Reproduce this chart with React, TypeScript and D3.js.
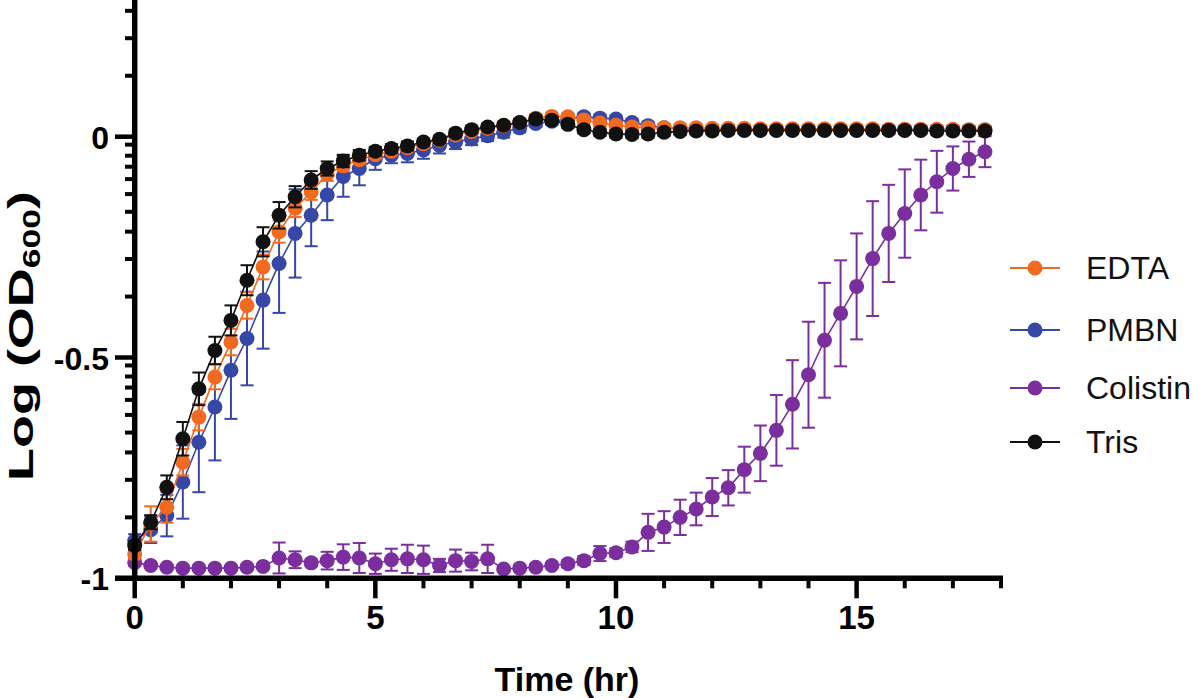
import * as d3 from "d3";

// sampling times, minutes
const minutes = [
  0, 20, 40, 60, 80, 100, 120, 140, 160, 180, 200, 220, 240, 260, 280, 300, 320, 340,
  360, 380, 400, 420, 440, 460, 480, 500, 520, 540, 560, 580, 600, 620, 640, 660, 680, 700,
  720, 740, 760, 780, 800, 820, 840, 860, 880, 900, 920, 940, 960, 980, 1000, 1020, 1040, 1060,
];

const edta = [
  -0.945, -0.877, -0.839, -0.737, -0.635, -0.544, -0.465, -0.382, -0.295, -0.215, -0.162, -0.125,
  -0.085, -0.066, -0.052, -0.041, -0.033, -0.025, -0.016, -0.008, 0.004, 0.012, 0.019, 0.025,
  0.032, 0.042, 0.046, 0.045, 0.038, 0.031, 0.026, 0.022, 0.02, 0.02, 0.02, 0.02, 0.019, 0.019,
  0.019, 0.018, 0.018, 0.018, 0.018, 0.018, 0.018, 0.018, 0.018, 0.017, 0.017, 0.017, 0.017,
  0.017, 0.016, 0.016,
];
const edtaSd = [
  0.012, 0.04, 0.035, 0.03, 0.03, 0.028, 0.03, 0.03, 0.028, 0.025, 0.02, 0.018, 0.015, 0.012,
  0.01, 0.008, 0.008, 0.008, 0.008, 0.008, 0.008, 0.008, 0.008, 0.008, 0.008, 0.008, 0.008,
  0.008, 0.008, 0.008, 0.008, 0.008, 0.008, 0.008, 0.008, 0.008, 0.008, 0.008, 0.008, 0.008,
  0.008, 0.008, 0.008, 0.008, 0.008, 0.008, 0.008, 0.008, 0.008, 0.008, 0.008, 0.008, 0.008, 0.008,
];

const pmbn = [
  -0.915, -0.89, -0.858, -0.782, -0.692, -0.612, -0.529, -0.457, -0.37, -0.287, -0.219, -0.178,
  -0.132, -0.09, -0.072, -0.05, -0.042, -0.038, -0.03, -0.02, -0.012, -0.005, 0.002, 0.01,
  0.02, 0.03, 0.035, 0.04, 0.045, 0.042, 0.04, 0.032, 0.025, 0.02, 0.018, 0.017, 0.017, 0.016,
  0.016, 0.016, 0.016, 0.016, 0.016, 0.016, 0.016, 0.016, 0.016, 0.016, 0.016, 0.016, 0.016,
  0.016, 0.015, 0.015,
];
const pmbnSd = [
  0.015, 0.03, 0.047, 0.083, 0.113, 0.121, 0.11, 0.106, 0.11, 0.112, 0.1, 0.07, 0.057, 0.046,
  0.038, 0.025, 0.018, 0.02, 0.02, 0.018, 0.016, 0.014, 0.012, 0.012, 0.01, 0.008, 0.008,
  0.008, 0.008, 0.008, 0.008, 0.008, 0.008, 0.008, 0.008, 0.008, 0.008, 0.008, 0.008, 0.008,
  0.008, 0.008, 0.008, 0.008, 0.008, 0.008, 0.008, 0.008, 0.008, 0.008, 0.008, 0.008, 0.008, 0.008,
];

const colistin = [
  -0.964, -0.971, -0.975, -0.977, -0.977, -0.977, -0.977, -0.975, -0.973, -0.954, -0.958,
  -0.965, -0.96, -0.952, -0.954, -0.967, -0.958, -0.956, -0.958, -0.971, -0.96, -0.962, -0.956,
  -0.979, -0.977, -0.975, -0.971, -0.967, -0.96, -0.944, -0.942, -0.929, -0.896, -0.884, -0.862,
  -0.843, -0.816, -0.795, -0.754, -0.717, -0.665, -0.606, -0.539, -0.461, -0.4, -0.339, -0.276,
  -0.219, -0.174, -0.132, -0.102, -0.072, -0.051, -0.034,
];
const colistinSd = [
  0.008, 0.006, 0.005, 0.005, 0.005, 0.005, 0.005, 0.006, 0.006, 0.035, 0.019, 0.008, 0.02,
  0.029, 0.034, 0.023, 0.025, 0.032, 0.032, 0.015, 0.025, 0.02, 0.032, 0.006, 0.006, 0.006,
  0.006, 0.008, 0.01, 0.017, 0.01, 0.012, 0.042, 0.036, 0.04, 0.037, 0.043, 0.04, 0.052, 0.063,
  0.08, 0.1, 0.12, 0.13, 0.12, 0.12, 0.13, 0.11, 0.1, 0.08, 0.07, 0.05, 0.04, 0.035,
];

const tris = [
  -0.926, -0.873, -0.794, -0.684, -0.571, -0.484, -0.416, -0.325, -0.238, -0.178, -0.136,
  -0.098, -0.072, -0.055, -0.042, -0.033, -0.027, -0.021, -0.012, -0.006, 0.008, 0.016, 0.022,
  0.026, 0.032, 0.04, 0.037, 0.028, 0.016, 0.01, 0.006, 0.005, 0.006, 0.01, 0.012, 0.013,
  0.013, 0.014, 0.014, 0.014, 0.014, 0.014, 0.014, 0.014, 0.014, 0.014, 0.014, 0.014, 0.014,
  0.014, 0.013, 0.013, 0.013, 0.013,
];
const trisSd = [
  0.01, 0.016, 0.027, 0.038, 0.037, 0.031, 0.034, 0.034, 0.033, 0.03, 0.024, 0.02, 0.016,
  0.014, 0.012, 0.01, 0.01, 0.01, 0.008, 0.008, 0.008, 0.008, 0.008, 0.008, 0.008, 0.008,
  0.008, 0.008, 0.008, 0.008, 0.008, 0.008, 0.008, 0.008, 0.008, 0.008, 0.008, 0.008, 0.008,
  0.008, 0.008, 0.008, 0.008, 0.008, 0.008, 0.008, 0.008, 0.008, 0.008, 0.008, 0.008, 0.008, 0.008, 0.008,
];

const seriesNames = ["EDTA", "PMBN", "Colistin", "Tris"];
const seriesColors = ["#f26a21", "#3747a6", "#7b2e9d", "#111111"];

const xMajorTicks = [0, 5, 10, 15];
const xMinorTicks = [1, 2, 3, 4, 6, 7, 8, 9, 11, 12, 13, 14, 16, 17, 18];
const yMajorTicks = [0, -0.5, -1];
const yTickLabels = ["0", "-0.5", "-1"];
const yMinorTicks = [
  0.285, 0.223, 0.138,
  -0.018, -0.043, -0.068, -0.096, -0.13, -0.17, -0.215, -0.277, -0.362,
  -0.518, -0.543, -0.568, -0.596, -0.63, -0.67, -0.715, -0.777, -0.862,
];

const FONT = "'Liberation Sans', Arial, Helvetica, sans-serif";

export default function App() {
  const x = d3.scaleLinear().domain([0, 18]).range([134.7, 1001]);
  const y = d3.scaleLinear().domain([-1, 0]).range([578.3, 136.7]);
  const hours = minutes.map((m) => m / 60);

  const all = [
    { name: "EDTA", v: edta, sd: edtaSd },
    { name: "PMBN", v: pmbn, sd: pmbnSd },
    { name: "Colistin", v: colistin, sd: colistinSd },
    { name: "Tris", v: tris, sd: trisSd },
  ];
  // draw order: colistin, pmbn, edta, tris on top
  const order = ["Colistin", "PMBN", "EDTA", "Tris"];
  const colorOf = (n: string) => seriesColors[seriesNames.indexOf(n)];

  const line = d3
    .line<number>()
    .x((_, i) => x(hours[i]))
    .y((d) => y(d));

  const x0 = x(0);
  const yBottom = y(-1);
  const capW = 6.5;

  return (
    <svg
      width={1200}
      height={698}
      style={{ position: "absolute", left: 0, top: 0, background: "#fff" }}
      fontFamily={FONT}
    >
      {order.map((n) => {
        const s = all.find((a) => a.name === n)!;
        const c = colorOf(n);
        return (
          <g key={n}>
            <path d={line(s.v) ?? ""} fill="none" stroke={c} strokeWidth={1.6} />
            {s.v.map((v, i) => {
              const cx = x(hours[i]);
              const top = y(v + s.sd[i]);
              const bot = y(v - s.sd[i]);
              return (
                <g key={i} stroke={c} strokeWidth={2}>
                  <line x1={cx} x2={cx} y1={top} y2={bot} />
                  <line x1={cx - capW} x2={cx + capW} y1={top} y2={top} />
                  <line x1={cx - capW} x2={cx + capW} y1={bot} y2={bot} />
                </g>
              );
            })}
            {s.v.map((v, i) => (
              <circle key={"c" + i} cx={x(hours[i])} cy={y(v)} r={7.5} fill={c} />
            ))}
          </g>
        );
      })}

      {/* axes */}
      <line x1={x0} x2={x0} y1={y(0.31)} y2={yBottom} stroke="#000" strokeWidth={5.5} />
      <line x1={115} x2={x(18) + 2} y1={yBottom} y2={yBottom} stroke="#000" strokeWidth={5.5} />
      {yMajorTicks.map((t, i) => (
        <g key={"ym" + t}>
          <line x1={115} x2={x0} y1={y(t)} y2={y(t)} stroke="#000" strokeWidth={4.5} />
          <text
            x={109}
            y={y(t) + 12}
            textAnchor="end"
            fontSize={32}
            fontWeight="bold"
          >
            {yTickLabels[i]}
          </text>
        </g>
      ))}
      {yMinorTicks.map((t) => (
        <line key={"yn" + t} x1={125} x2={x0} y1={y(t)} y2={y(t)} stroke="#000" strokeWidth={4} />
      ))}
      {xMajorTicks.map((t) => (
        <g key={"xm" + t}>
          <line x1={x(t)} x2={x(t)} y1={yBottom} y2={yBottom + 20} stroke="#000" strokeWidth={4.5} />
          <text x={x(t)} y={629} textAnchor="middle" fontSize={33} fontWeight="bold">
            {t}
          </text>
        </g>
      ))}
      {xMinorTicks.map((t) => (
        <line
          key={"xn" + t}
          x1={x(t)}
          x2={x(t)}
          y1={yBottom}
          y2={yBottom + 10}
          stroke="#000"
          strokeWidth={4}
        />
      ))}

      {/* axis titles */}
      <text x={567} y={691} textAnchor="middle" fontSize={34} fontWeight="bold">
        Time (hr)
      </text>
      <text
        transform="translate(33,336) rotate(-90)"
        textAnchor="middle"
        fontSize={35}
        fontWeight="bold"
        textLength={290}
        lengthAdjust="spacingAndGlyphs"
      >
        Log (OD
        <tspan fontSize={23} dy={7}>
          600
        </tspan>
        <tspan dy={-7}>)</tspan>
      </text>

      {/* legend */}
      {seriesNames.map((n, i) => {
        const ly = [268, 330, 388, 442][i];
        return (
          <g key={"lg" + n}>
            <line x1={1010} x2={1060} y1={ly} y2={ly} stroke={seriesColors[i]} strokeWidth={2} />
            <circle cx={1035} cy={ly} r={7.5} fill={seriesColors[i]} />
            <text x={1086} y={ly + 11} fontSize={32} fill="#111">
              {n}
            </text>
          </g>
        );
      })}
    </svg>
  );
}
